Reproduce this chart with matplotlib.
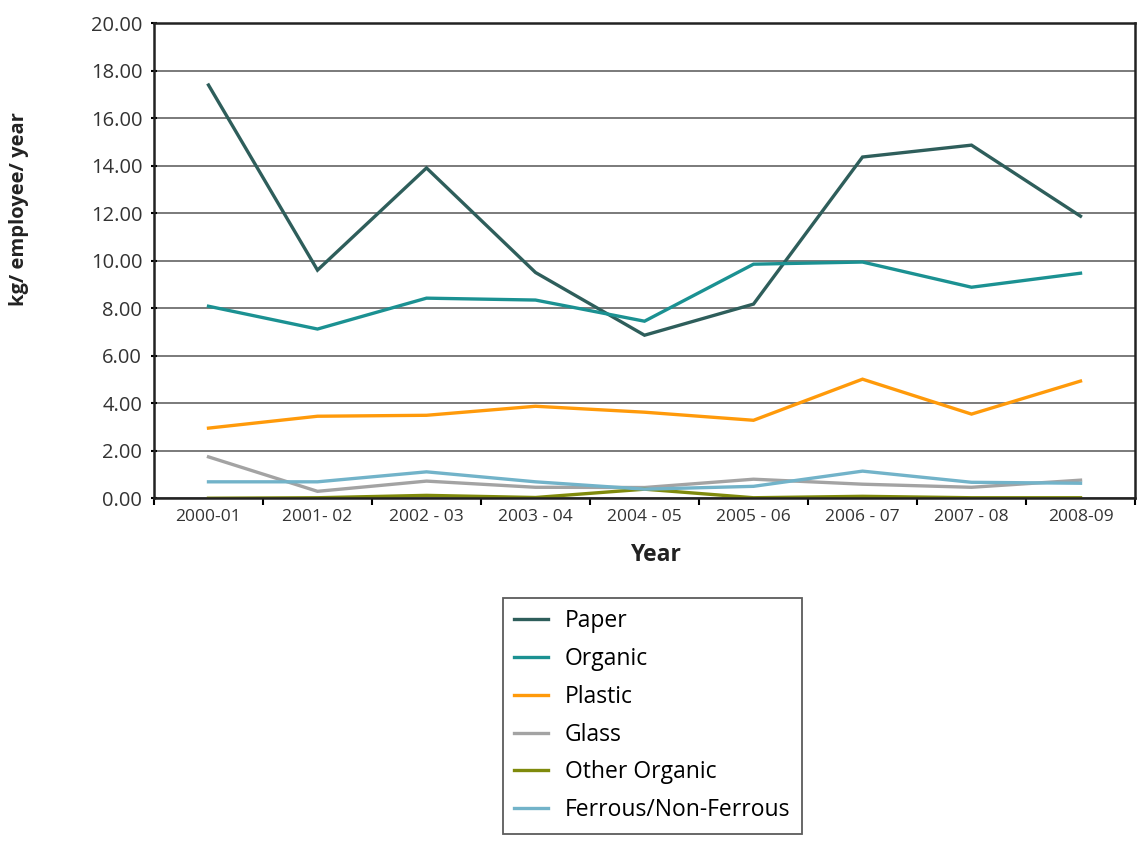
import matplotlib.pyplot as plt
import numpy as np

plt.rcParams['font.family'] = ['Open Sans', 'DejaVu Sans']

years = ['2000-01', '2001- 02', '2002 - 03', '2003 - 04', '2004 - 05',
         '2005 - 06', '2006 - 07', '2007 - 08', '2008-09']

paper = [17.39, 9.60, 13.90, 9.50, 6.86, 8.17, 14.36, 14.86, 11.87]
organic = [8.08, 7.12, 8.42, 8.34, 7.45, 9.85, 9.94, 8.88, 9.47]
plastic = [2.95, 3.45, 3.49, 3.87, 3.62, 3.28, 5.01, 3.54, 4.93]
glass = [1.74, 0.29, 0.72, 0.46, 0.45, 0.80, 0.59, 0.46, 0.76]
other_organic = [0.00, 0.02, 0.12, 0.03, 0.38, 0.02, 0.08, 0.02, 0.02]
ferrous = [0.69, 0.69, 1.11, 0.69, 0.38, 0.50, 1.14, 0.67, 0.63]

series = [
    ('Paper', paper, '#2e5e5b'),
    ('Organic', organic, '#1b9192'),
    ('Plastic', plastic, '#ff9a0a'),
    ('Glass', glass, '#a3a3a3'),
    ('Other Organic', other_organic, '#7f8a0c'),
    ('Ferrous/Non-Ferrous', ferrous, '#72b3c9'),
]

fig = plt.figure(figsize=(11.39, 8.43), dpi=100)
ax = fig.add_axes([0.1352, 0.409, 0.8613, 0.5637])

x = np.arange(len(years))
for name, vals, col in series:
    ax.plot(x, vals, color=col, lw=2.4, label=name, solid_joinstyle='miter')

ax.set_xlim(-0.5, len(years) - 0.5)
ax.set_ylim(0, 20)
ax.set_yticks(np.arange(0, 21, 2))
ax.set_yticklabels(['%.2f' % v for v in np.arange(0, 21, 2)], fontsize=14.5, color='#333333')
ax.yaxis.grid(True, color='#7a7a7a', lw=1.4)
ax.set_axisbelow(True)

ax.set_xticks(x)
ax.set_xticklabels(years, fontsize=12.5, color='#333333')
ax.set_xticks(np.arange(-0.5, len(years)), minor=True)
ax.tick_params(axis='x', which='major', length=0, pad=8)
ax.tick_params(axis='x', which='minor', length=5, width=1.5, direction='out')
ax.tick_params(axis='y', length=5, width=1.5, direction='inout', pad=6)

for s in ax.spines.values():
    s.set_linewidth(1.8)
    s.set_color('#222222')

ax.set_xlabel('Year', fontsize=16.5, fontweight='bold', color='#222222')
ax.xaxis.set_label_coords(0.5117, -0.094)
ax.set_ylabel('kg/ employee/ year', fontsize=14.5, fontweight='bold', color='#222222')
ax.yaxis.set_label_coords(-0.1275, 0.608)

leg = fig.legend(loc='upper left', bbox_to_anchor=(0.4416, 0.2906), fontsize=16.5,
                 frameon=True, fancybox=False, edgecolor='#333333',
                 handlelength=1.45, handletextpad=0.75, labelspacing=0.6,
                 borderpad=0.5, borderaxespad=0)
leg.get_frame().set_linewidth(1.3)

plt.savefig('out.png', dpi=100)
